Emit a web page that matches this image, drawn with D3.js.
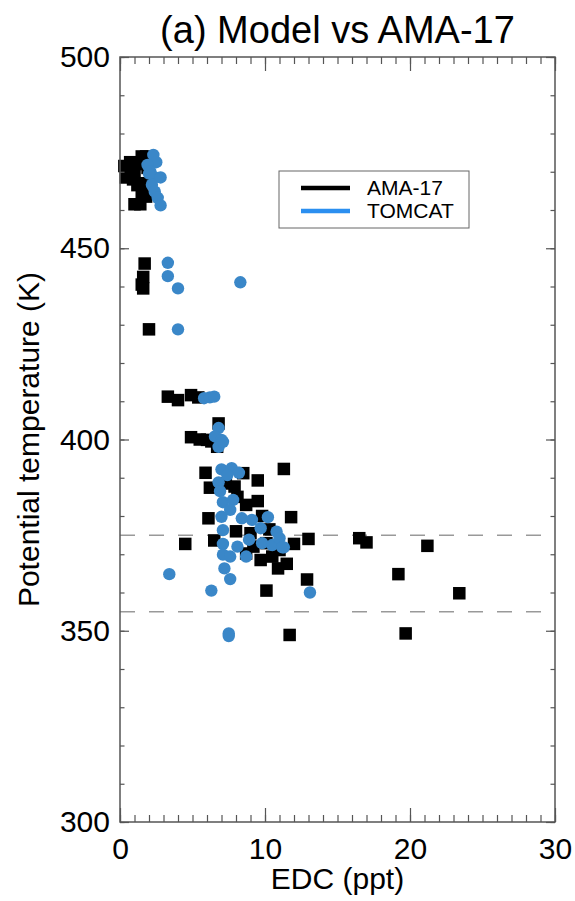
<!DOCTYPE html>
<html><head><meta charset="utf-8">
<script src="https://cdn.jsdelivr.net/npm/d3@7"></script>
<style>body{margin:0;background:#fff}svg{display:block;font-family:"Liberation Sans",Arial,sans-serif}</style>
</head><body><svg id="c" width="575" height="901"></svg>
<script>
// AMA-17 observations (EDC ppt, potential temperature K)
const amaEDC = [0.3,0.4,0.7,1.0,1.3,1.5,1.8,1.9,0.9,1.2,1.5,1.0,1.4,1.8,1.6,
  1.7,1.6,1.5,1.6,2.0,
  3.3,4.0,4.9,5.4,6.8,
  4.9,5.5,6.0,6.3,6.7,
  11.3,5.9,6.2,8.5,9.5,7.9,9.5,8.7,6.1,11.8,9.8,7.3,8.1,
  4.5,6.5,13.0,12.0,16.5,17.0,21.2,8.7,9.7,10.5,11.5,10.9,12.9,10.1,11.7,19.2,23.4,19.7,9.2,10.1,11.0,9.0,10.3,8.0];
const amaTheta = [471.5,468.5,472.5,470,472,474,474,471,468,466.5,464.5,461.5,461.5,463.5,467,
  446,442.5,440.5,439.5,428.8,
  411.2,410.3,411.6,411,404.2,
  400.6,400,399.9,399.5,398.1,
  392.3,391.3,387.4,391.2,389.3,387.7,383.9,382.9,379.4,379.7,380,388.5,385,
  372.7,373.6,374,372.7,374.2,373.1,372.2,370.2,368.5,369.4,367.5,366.3,363.4,360.5,348.9,364.8,359.8,349.3,372,372.9,371.1,375.5,376.5,376];
// TOMCAT model
const tomEDC = [2.3,2.5,1.9,2.1,2.4,2.8,2.2,2.4,2.6,2.8,2.0,
  3.3,3.3,4.0,8.3,4.0,
  5.8,6.2,6.5,6.8,6.55,7.0,6.8,7.1,
  7.0,7.7,8.2,7.4,6.8,6.9,7.1,7.8,7.0,7.6,8.4,9.1,10.2,9.7,7.1,10.8,7.1,8.1,8.9,9.8,10.5,11.0,11.3,7.1,7.6,8.7,7.2,7.6,6.3,13.1,7.5,7.5,3.4,11.2];
const tomTheta = [474.4,472.5,471.8,470,468.5,468.5,466.6,464.8,463.2,461.2,469.5,
  446.2,442.7,439.5,441.1,428.8,
  410.8,411,411.2,403,400.8,399.9,398.1,399.4,
  392.2,392.5,391.3,390.7,388.8,386.5,383.6,384.2,379.8,381.6,379.4,379,379.7,376.8,376.3,375.9,372.7,372,373.8,372.9,372.4,374.2,371.8,369.9,369.4,369.4,366.3,363.5,360.5,360,349.3,348.6,364.8,371.8];
const xTicks = [0,10,20,30];
const yTicks = [300,350,400,450,500];
const refLines = [375,355];
const seriesNames = ["AMA-17","TOMCAT"];
const seriesColors = ["#000000","#2b8ff0"];
const dotColor = "#3a87c8";

const svg = d3.select("#c");
const L=120,R=555,T=57,B=822;
const x = d3.scaleLinear().domain([0,30]).range([L,R]);
const y = d3.scaleLinear().domain([300,500]).range([B,T]);
const axisCol = "#555";
const FF = "Liberation Sans, Arial, sans-serif";

// reference dashed lines
svg.selectAll("line.ref").data(refLines).enter().append("line")
  .attr("x1",L).attr("x2",R).attr("y1",d=>y(d)).attr("y2",d=>y(d))
  .attr("stroke","#999").attr("stroke-width",1.5).attr("stroke-dasharray","15,14");

// points
const ama = amaEDC.map((v,i)=>[v,amaTheta[i]]);
const tom = tomEDC.map((v,i)=>[v,tomTheta[i]]);
const s=12.5;
svg.append("g").selectAll("rect").data(ama).enter().append("rect")
  .attr("x",d=>x(d[0])-s/2).attr("y",d=>y(d[1])-s/2).attr("width",s).attr("height",s).attr("fill","#000");
svg.append("g").selectAll("circle").data(tom).enter().append("circle")
  .attr("cx",d=>x(d[0])).attr("cy",d=>y(d[1])).attr("r",6.2).attr("fill",dotColor);

// frame + ticks
const xMinor = d3.range(0,31,1), yMinor = d3.range(300,501,10);
svg.append("rect").attr("x",L).attr("y",T).attr("width",R-L).attr("height",B-T)
  .attr("fill","none").attr("stroke",axisCol).attr("stroke-width",1.5);
const styleG = g=>{g.select(".domain").remove();g.selectAll("line").attr("stroke",axisCol).attr("stroke-width",1.2);
  g.selectAll("text").attr("font-size",30).attr("fill","#000").attr("font-family",FF);};
svg.append("g").attr("transform",`translate(0,${B})`).call(d3.axisBottom(x).tickValues(xMinor).tickSize(-7).tickFormat("")).call(styleG);
svg.append("g").attr("transform",`translate(0,${T})`).call(d3.axisTop(x).tickValues(xMinor).tickSize(-7).tickFormat("")).call(styleG);
svg.append("g").attr("transform",`translate(${L},0)`).call(d3.axisLeft(y).tickValues(yMinor).tickSize(-4.5).tickFormat("")).call(styleG);
svg.append("g").attr("transform",`translate(${R},0)`).call(d3.axisRight(y).tickValues(yMinor).tickSize(-4.5).tickFormat("")).call(styleG);
// major ticks
svg.append("g").attr("transform",`translate(0,${B})`).call(d3.axisBottom(x).tickValues(xTicks).tickSize(-14).tickPadding(16).tickFormat(d3.format("d"))).call(styleG);
svg.append("g").attr("transform",`translate(0,${T})`).call(d3.axisTop(x).tickValues(xTicks).tickSize(-14).tickFormat("")).call(styleG);
svg.append("g").attr("transform",`translate(${L},0)`).call(d3.axisLeft(y).tickValues(yTicks).tickSize(-9).tickPadding(10).tickFormat(d3.format("d"))).call(styleG);
svg.append("g").attr("transform",`translate(${R},0)`).call(d3.axisRight(y).tickValues(yTicks).tickSize(-9).tickFormat("")).call(styleG);

// labels
svg.append("text").attr("x",(L+R)/2).attr("y",43).attr("text-anchor","middle").attr("font-size",38).text("(a) Model vs AMA-17");
svg.append("text").attr("x",(L+R)/2).attr("y",889).attr("text-anchor","middle").attr("font-size",30).text("EDC (ppt)");
svg.append("text").attr("transform",`translate(39,${(T+B)/2}) rotate(-90)`).attr("text-anchor","middle").attr("font-size",30).text("Potential temperature (K)");

// legend
const lg = svg.append("g");
lg.append("rect").attr("x",279).attr("y",171).attr("width",190).attr("height",57).attr("fill","#fff").attr("stroke","#666").attr("stroke-width",1);
seriesNames.forEach((n,i)=>{
  lg.append("line").attr("x1",301).attr("x2",350).attr("y1",188+i*23).attr("y2",188+i*23).attr("stroke",seriesColors[i]).attr("stroke-width",4.5);
  lg.append("text").attr("x",367).attr("y",195+i*23).attr("font-size",21).text(n);
});
</script></body></html>
